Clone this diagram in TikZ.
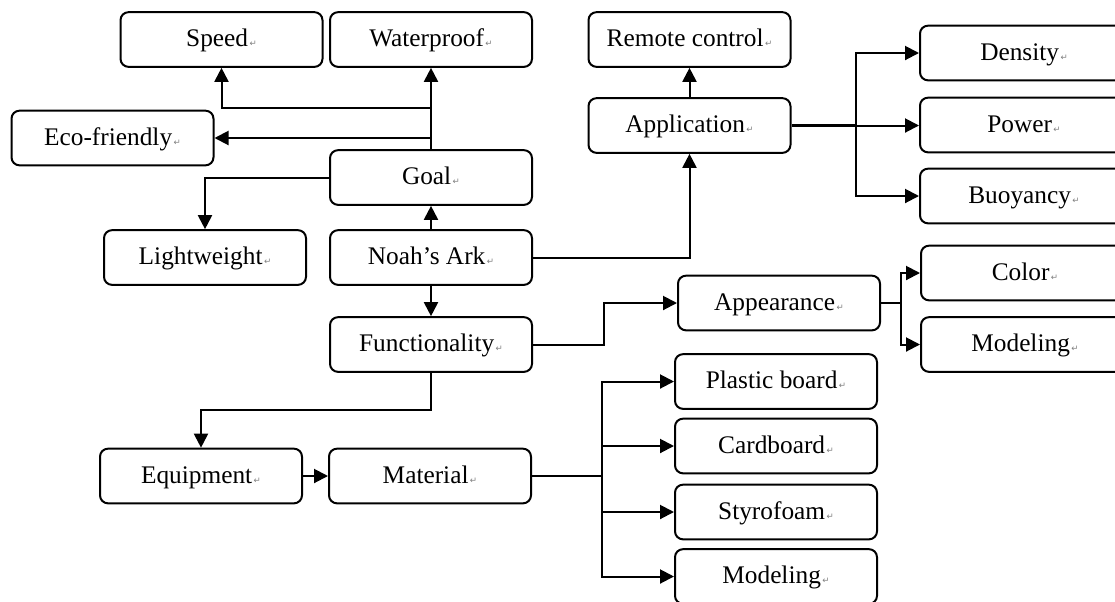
\documentclass[tikz,border=0pt]{standalone}
\usepackage{fontspec}
\setmainfont{Liberation Serif}
\newfontfamily\dvfont{DejaVu Sans}
\usetikzlibrary{arrows.meta}
\newcommand{\pmk}{{\dvfont\fontsize{6.5}{6.5}\selectfont\color{gray}\,↵}}
\tikzset{
  box/.style={draw=black, line width=1.5pt, rounded corners=6pt, minimum width=151.5pt, minimum height=41pt, inner sep=0pt, text height=14pt, text depth=3.5pt, fill=white, font=\fontsize{19}{21}\selectfont},
  wbox/.style={box, minimum width=156pt},
  conn/.style={draw=black, line width=1.5pt},
  arr/.style={conn, -{Triangle[length=10.5pt,width=10.5pt]}}
}
\begin{document}
\begin{tikzpicture}[x=0.75pt,y=-0.75pt]
\useasboundingbox (0,0) rectangle (1115,601);
\clip (0,0) rectangle (1115,601);
% nodes
\node[box] (speed) at (221.5,39.5) {Speed\pmk};
\node[box] (water) at (431,39.5) {Waterproof\pmk};
\node[box] (remote) at (689.5,39.5) {Remote control\pmk};
\node[box] (eco) at (112.5,138) {Eco-friendly\pmk};
\node[box] (app) at (689.5,125.5) {Application\pmk};
\node[box] (goal) at (431,177.5) {Goal\pmk};
\node[box] (light) at (205,257.5) {Lightweight\pmk};
\node[box] (noah) at (431,257.5) {Noah’s Ark\pmk};
\node[box] (func) at (431,344.5) {Functionality\pmk};
\node[box] (appear) at (779,303) {Appearance\pmk};
\node[box] (equip) at (201,476) {Equipment\pmk};
\node[box] (mat) at (430,476) {Material\pmk};
\node[wbox] (density) at (1024,53) {Density\pmk};
\node[wbox] (power) at (1024,125) {Power\pmk};
\node[wbox] (buoy) at (1024,196) {Buoyancy\pmk};
\node[wbox] (color) at (1025,273) {Color\pmk};
\node[wbox] (model1) at (1025,344.5) {Modeling\pmk};
\node[box] (plastic) at (776,381.5) {Plastic board\pmk};
\node[box] (card) at (776,446) {Cardboard\pmk};
\node[box] (styro) at (776,512) {Styrofoam\pmk};
\node[box] (model2) at (776,576.5) {Modeling\pmk};
% junctions
\coordinate (gj) at (431,108);
\coordinate (aj) at (855.5,125.5);
\coordinate (fj) at (604,344.5);
\coordinate (apj) at (901,303);
\coordinate (fq) at (431,410);
\coordinate (mj) at (602,476);
% connectors
\draw[arr] (noah) -- (goal);
\draw[arr] (goal) -- (water);
\draw[arr] (gj) -| (speed);
\draw[arr] (goal.north |- eco.east) -- (eco.east);
\draw[arr] (goal.west) -| (light);
\draw[arr] (noah.east) -| (app);
\draw[arr] (app) -- (remote);
\draw[conn, line width=2pt] (app.east) -- (aj);
\draw[arr] (aj) |- (density);
\draw[arr] (aj) -- (power.west |- aj);
\draw[arr] (aj) |- (buoy);
\draw[arr] (noah) -- (func);
\draw[arr] (func.east) -- (fj) |- (appear);
\draw[conn] (appear.east) -- (apj);
\draw[arr] (apj) |- (color);
\draw[arr] (apj) |- (model1);
\draw[arr] (func.south) -- (fq) -| (equip);
\draw[arr] (equip) -- (mat);
\draw[conn] (mat.east) -- (mj);
\draw[arr] (mj) |- (plastic);
\draw[arr] (mj) |- (card);
\draw[arr] (mj) |- (styro);
\draw[arr] (mj) |- (model2);
\end{tikzpicture}
\end{document}
